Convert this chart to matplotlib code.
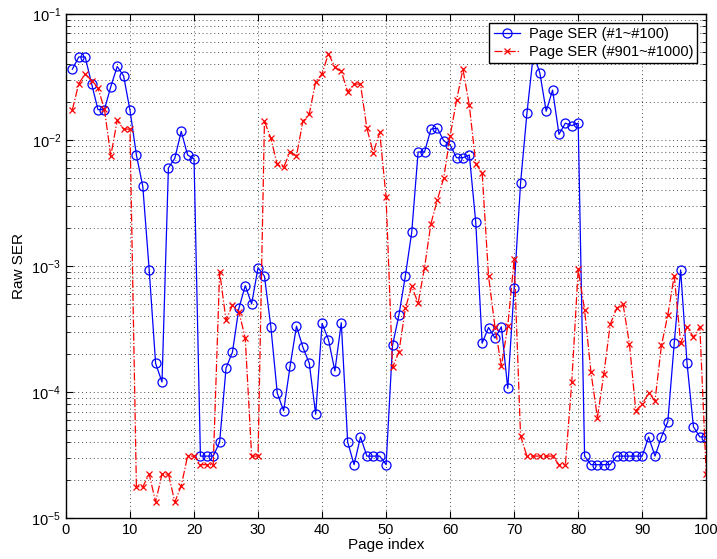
import numpy as np
import matplotlib
matplotlib.use("Agg")
import matplotlib.pyplot as plt
from matplotlib.ticker import LogLocator, NullFormatter, MultipleLocator

plt.rcParams['font.family'] = ['Liberation Sans', 'DejaVu Sans']
plt.rcParams['mathtext.fontset'] = 'custom'
plt.rcParams['mathtext.rm'] = 'Liberation Sans'

page_index = list(range(1, 101))

ser_first = [
    0.0365, 0.0456, 0.0456, 0.028, 0.0174, 0.0174, 0.0265, 0.0383, 0.0323, 0.0172,
    0.0076, 0.00428, 0.00093, 0.000169, 0.00012, 0.006, 0.00715, 0.0117, 0.0076, 0.0071,
    3.1e-5, 3.1e-5, 3.1e-5, 4.0e-5, 1.55e-4, 2.07e-4, 4.6e-4, 6.98e-4, 5.0e-4, 9.7e-4,
    8.3e-4, 3.29e-4, 9.8e-5, 7.1e-5, 1.6e-4, 3.33e-4, 2.27e-4, 1.69e-4, 6.67e-5, 3.5e-4,
    2.6e-4, 1.47e-4, 3.54e-4, 4.0e-5, 2.65e-5, 4.4e-5, 3.1e-5, 3.1e-5, 3.1e-5, 2.65e-5,
    2.34e-4, 4.08e-4, 8.3e-4, 1.85e-3, 8.03e-3, 8.03e-3, 0.0122, 0.0124, 0.00985, 0.00914,
    0.00723, 0.00723, 0.0076, 2.23e-3, 2.44e-4, 3.25e-4, 2.68e-4, 3.29e-4, 1.07e-4, 6.7e-4,
    4.55e-3, 0.0164, 0.048, 0.0343, 0.0169, 0.0249, 0.0111, 0.0136, 0.013, 0.0136,
    3.1e-5, 2.65e-5, 2.65e-5, 2.65e-5, 2.65e-5, 3.1e-5, 3.1e-5, 3.1e-5, 3.1e-5, 3.1e-5,
    4.4e-5, 3.1e-5, 4.4e-5, 5.82e-5, 2.44e-4, 9.3e-4, 1.69e-4, 5.3e-5, 4.4e-5, 4.4e-5,
]

ser_last = [
    0.0174, 0.028, 0.0335, 0.0296, 0.0257, 0.0177, 0.00745, 0.0143, 0.0122, 0.0122,
    1.77e-5, 1.77e-5, 2.23e-5, 1.34e-5, 2.23e-5, 2.23e-5, 1.34e-5, 1.8e-5, 3.1e-5, 3.1e-5,
    2.65e-5, 2.65e-5, 2.65e-5, 9.0e-4, 3.7e-4, 4.9e-4, 4.35e-4, 2.68e-4, 3.1e-5, 3.1e-5,
    0.0141, 0.0103, 0.00639, 0.00608, 0.00803, 0.00745, 0.0141, 0.0161, 0.029, 0.0335,
    0.0485, 0.0377, 0.035, 0.0242, 0.0278, 0.0278, 0.0124, 0.0079, 0.0115, 3.5e-3,
    1.57e-4, 2.07e-4, 4.6e-4, 6.9e-4, 5.07e-4, 9.7e-4, 2.17e-3, 3.34e-3, 4.99e-3, 0.0108,
    0.0206, 0.0365, 0.0188, 6.5e-3, 5.47e-3, 8.3e-4, 3.29e-4, 1.6e-4, 3.33e-4, 1.13e-3,
    4.47e-5, 3.1e-5, 3.1e-5, 3.1e-5, 3.1e-5, 3.1e-5, 2.65e-5, 2.65e-5, 1.2e-4, 9.4e-4,
    4.48e-4, 1.43e-4, 6.27e-5, 1.38e-4, 3.44e-4, 4.6e-4, 5.0e-4, 2.42e-4, 7.1e-5, 8.04e-5,
    9.8e-5, 8.55e-5, 2.34e-4, 4.08e-4, 8.4e-4, 2.44e-4, 3.29e-4, 2.73e-4, 3.29e-4, 2.23e-5,
]

fig = plt.figure(figsize=(7.17, 5.59), dpi=100)
ax = fig.add_axes([0.092, 0.0733, 0.893, 0.9017])

ax.semilogy(page_index, ser_first, '-o', color='blue', markerfacecolor='none',
            markersize=6.5, linewidth=0.9, markeredgewidth=0.9, label='Page SER (#1~#100)')
ax.semilogy(page_index, ser_last, '-.x', color='red', markersize=5,
            linewidth=0.9, markeredgewidth=0.9, label='Page SER (#901~#1000)')

ax.set_xlim(0, 100)
ax.set_ylim(1e-5, 1e-1)
ax.xaxis.set_major_locator(MultipleLocator(10))
ax.yaxis.set_major_locator(LogLocator(base=10, numticks=10))
ax.yaxis.set_minor_locator(LogLocator(base=10, subs=np.arange(2, 10), numticks=20))
ax.yaxis.set_minor_formatter(NullFormatter())

gridstyle = dict(linestyle=(0, (1, 3)), color='black', linewidth=0.7, alpha=0.7)
ax.grid(True, which='major', **gridstyle)
ax.grid(True, which='minor', axis='y', **gridstyle)

ax.tick_params(which='both', direction='in', top=True, right=True, labelsize=10.5)
ax.tick_params(which='major', length=5)
ax.tick_params(which='minor', length=3)
for s in ax.spines.values():
    s.set_linewidth(1.0)

ax.set_xlabel('Page index', fontsize=11, labelpad=1)
ax.set_ylabel('Raw SER', fontsize=11, labelpad=4)

leg = ax.legend(loc='upper right', fontsize=10.5, frameon=True, fancybox=False,
                borderpad=0.3, labelspacing=0.25, handlelength=1.8, handletextpad=0.6,
                borderaxespad=0.6)
leg.get_frame().set_edgecolor('black')
leg.get_frame().set_linewidth(1.0)
leg.get_frame().set_alpha(1.0)

fig.savefig('out.png', dpi=100)
